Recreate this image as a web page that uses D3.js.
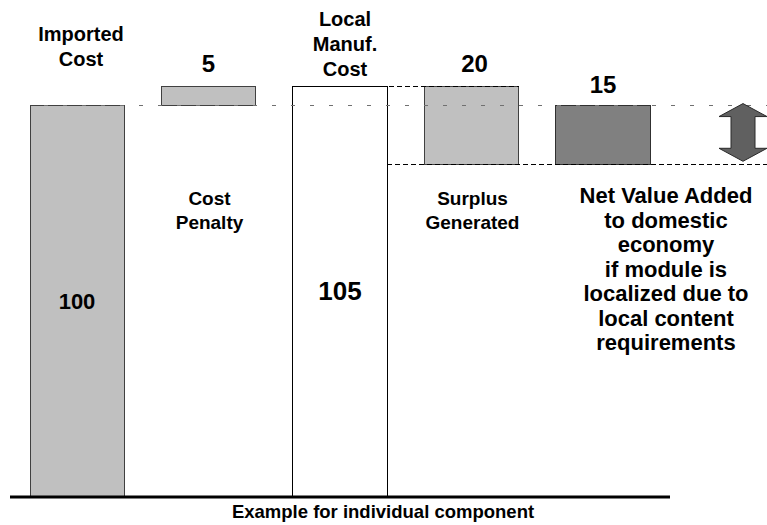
<!DOCTYPE html>
<html>
<head>
<meta charset="utf-8">
<script src="https://cdn.jsdelivr.net/npm/d3@7"></script>
<style>
  html, body { margin: 0; padding: 0; background: #fff; }
  svg { display: block; font-family: "Liberation Sans", Arial, sans-serif; font-weight: bold; }
</style>
</head>
<body>
<svg id="chart" width="767" height="525"></svg>
<script>
// ---- data ----
const categories = ["Imported Cost", "Cost Penalty", "Local Manuf. Cost", "Surplus Generated", "Net Value Added"];
const values = [100, 5, 105, 20, 15];
const bases = [0, 100, 0, 85, 85];
const valueLabels = ["100", "5", "105", "20", "15"];
const topLabels = [["Imported", "Cost"], [], ["Local", "Manuf.", "Cost"], [], []];
const belowLabels = [[], ["Cost", "Penalty"], [], ["Surplus", "Generated"],
  ["Net Value Added", "to domestic", "economy", "if module is", "localized due to", "local content", "requirements"]];
const axisTitle = "Example for individual component";

// ---- styles ----
const fills = ["#c0c0c0", "#c0c0c0", "#ffffff", "#c0c0c0", "#808080"];
const strokes = ["#404040", "#404040", "#000000", "#404040", "#303030"];

const svg = d3.select("#chart");
const W = 767;

const x = d3.scaleBand().domain(categories).range([30, 650]).paddingInner(0.285).paddingOuter(0);
const y = d3.scaleLinear().domain([0, 105]).range([497, 86]);
const bw = x.bandwidth();

const rows = categories.map((c, i) => ({ c, i, v: values[i], b: bases[i] }));

// bars
svg.selectAll("rect.bar").data(rows).enter().append("rect")
  .attr("class", "bar")
  .attr("x", d => x(d.c))
  .attr("y", d => y(d.b + d.v))
  .attr("width", bw)
  .attr("height", d => y(d.b) - y(d.b + d.v))
  .attr("fill", d => fills[d.i])
  .attr("stroke", d => strokes[d.i])
  .attr("stroke-width", 1)
  .attr("shape-rendering", "crispEdges");

// dotted reference line at level 100
svg.append("line")
  .attr("x1", x(categories[0])).attr("x2", W)
  .attr("y1", y(100)).attr("y2", y(100))
  .attr("stroke", "#707070").attr("stroke-width", 1)
  .attr("stroke-dasharray", "4,15").attr("stroke-dashoffset", 5)
  .attr("shape-rendering", "crispEdges");

// dashed line at level 105 (top of local manuf. cost to surplus)
svg.append("line")
  .attr("x1", x(categories[2])).attr("x2", x(categories[3]) + bw)
  .attr("y1", y(105)).attr("y2", y(105))
  .attr("stroke", "#000").attr("stroke-width", 1)
  .attr("stroke-dasharray", "5,3")
  .attr("shape-rendering", "crispEdges");

// dashed line at level 85
svg.append("line")
  .attr("x1", x(categories[2]) + bw).attr("x2", W)
  .attr("y1", y(85)).attr("y2", y(85))
  .attr("stroke", "#000").attr("stroke-width", 1)
  .attr("stroke-dasharray", "5,3")
  .attr("shape-rendering", "crispEdges");

// baseline
svg.append("line")
  .attr("x1", 10).attr("x2", 670)
  .attr("y1", y(0)).attr("y2", y(0))
  .attr("stroke", "#000").attr("stroke-width", 3);

// double arrow
const ax = x(categories[4]) + bw + 93;
const aTop = y(100) - 2, aBot = y(85) - 3;
const hw = 24, sw = 12, hh = 13;
const arrowPts = [
  [ax, aTop], [ax + hw, aTop + hh], [ax + sw, aTop + hh], [ax + sw, aBot - hh],
  [ax + hw, aBot - hh], [ax, aBot], [ax - hw, aBot - hh], [ax - sw, aBot - hh],
  [ax - sw, aTop + hh], [ax - hw, aTop + hh]
];
svg.append("path")
  .attr("d", d3.line()(arrowPts) + "Z")
  .attr("fill", "#606060").attr("stroke", "#2a2a2a").attr("stroke-width", 1);

// value labels
const valueFont = [22, 24, 26, 24, 24];
const valuePos = rows.map(d => {
  if (d.i === 0 || d.i === 2) return y((d.b + d.v) / 2) + 8;
  return y(d.b + d.v) - 14;
});
valuePos[4] = y(100) - 13;
svg.selectAll("text.val").data(rows).enter().append("text")
  .attr("class", "val")
  .attr("x", d => x(d.c) + bw / 2 + (d.i === 3 ? 3 : 0))
  .attr("y", d => valuePos[d.i])
  .attr("text-anchor", "middle")
  .attr("font-size", d => valueFont[d.i])
  .attr("fill", "#000")
  .text(d => valueLabels[d.i]);

// top labels
const topBase = [41, 0, 25.5];
rows.forEach(d => {
  const lines = topLabels[d.i];
  if (!lines.length) return;
  const lh = d.i === 0 ? 24.5 : 25;
  svg.append("g").selectAll("text").data(lines).enter().append("text")
    .attr("x", x(d.c) + bw / 2 + (d.i === 0 ? 4 : 5))
    .attr("y", (t, k) => topBase[d.i] + k * lh)
    .attr("text-anchor", "middle")
    .attr("font-size", 20)
    .text(t => t);
});

// labels below bars
rows.forEach(d => {
  const lines = belowLabels[d.i];
  if (!lines.length) return;
  const big = d.i === 4;
  svg.append("g").selectAll("text").data(lines).enter().append("text")
    .attr("x", x(d.c) + bw / 2 + (big ? 63 : 1))
    .attr("y", (t, k) => (big ? 203 : 205) + k * (big ? 24.5 : 23.5))
    .attr("text-anchor", "middle")
    .attr("font-size", big ? 22 : 19)
    .text(t => t);
});

// axis title
svg.append("text")
  .attr("x", 383).attr("y", 518)
  .attr("text-anchor", "middle")
  .attr("font-size", 18.5)
  .text(axisTitle);
</script>
</body>
</html>
